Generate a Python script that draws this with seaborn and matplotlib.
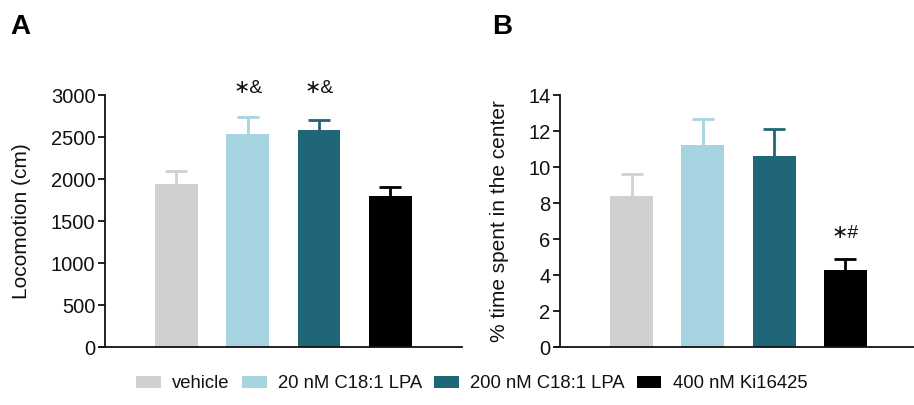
import matplotlib
matplotlib.use("Agg")
import matplotlib.pyplot as plt
from matplotlib.patches import Patch
import pandas as pd
import seaborn as sns

groups = ["vehicle", "20 nM C18:1 LPA", "200 nM C18:1 LPA", "400 nM Ki16425"]
colors = ["#d0d0d0", "#a6d4e0", "#1f6678", "#000000"]

loco_mean = [1945, 2540, 2580, 1805]
loco_sem = [155, 205, 120, 100]
loco_marks = ["", "\u2217&", "\u2217&", ""]

center_mean = [8.4, 11.25, 10.6, 4.3]
center_sem = [1.2, 1.4, 1.5, 0.6]
center_marks = ["", "", "", "\u2217#"]

sns.set_theme(style="ticks")
plt.rcParams["font.family"] = ["Liberation Sans", "DejaVu Sans"]
plt.rcParams["text.color"] = "#111111"
plt.rcParams["axes.labelcolor"] = "#111111"
plt.rcParams["ytick.color"] = "#111111"
plt.rcParams["axes.edgecolor"] = "#111111"

fig = plt.figure(figsize=(9.14, 4.05), dpi=100)
ax_a = fig.add_axes([0.115, 0.143, 0.39, 0.622])
ax_b = fig.add_axes([0.613, 0.143, 0.39, 0.622])


def draw_panel(ax, means, sems, marks, ylim, yticks, ylabel, mark_pad):
    df = pd.DataFrame({"group": groups, "value": means})
    sns.barplot(data=df, x="group", y="value", hue="group", palette=colors,
                order=groups, hue_order=groups, dodge=False, width=0.6,
                legend=False, ax=ax, saturation=1, linewidth=0)
    for bar in ax.patches:
        bar.set_zorder(2)
    for i, (m, s, c) in enumerate(zip(means, sems, colors)):
        eb = ax.errorbar(i, m, yerr=[[0], [s]], color=c, capsize=8,
                         elinewidth=2, capthick=2, zorder=1)
        # upper error only: hide the cap sitting on the bar top
        eb[1][0].set_visible(False)
    # significance marks sit at one height per panel
    tops = [m + s for m, s, k in zip(means, sems, marks) if k]
    for i, k in enumerate(marks):
        if k:
            ax.text(i, max(tops) + mark_pad, k, ha="center", va="center",
                    fontsize=14)
    ax.set_xlim(-1.0, 4.0)
    ax.set_ylim(*ylim)
    ax.set_yticks(yticks)
    ax.set_xticks([])
    ax.set_xlabel("")
    ax.set_ylabel(ylabel, fontsize=15, labelpad=14)
    ax.tick_params(axis="y", labelsize=14.5, length=5, width=1.3, pad=2)
    for side in ["top", "right"]:
        ax.spines[side].set_visible(False)
    ax.spines["left"].set_linewidth(1.3)
    ax.spines["bottom"].set_linewidth(1.3)
    ax.spines["bottom"].set_bounds(-1.07, 4.0)
    ax.spines["bottom"].set_clip_on(False)


draw_panel(ax_a, loco_mean, loco_sem, loco_marks, (0, 3000),
           range(0, 3001, 500), "Locomotion (cm)", 330)
draw_panel(ax_b, center_mean, center_sem, center_marks, (0, 14),
           range(0, 15, 2), "% time spent in the center", 1.43)

fig.text(0.011, 0.915, "A", fontsize=20, fontweight="bold", color="black")
fig.text(0.538, 0.915, "B", fontsize=20, fontweight="bold", color="black")

handles = [Patch(facecolor=c, edgecolor="none", label=g) for g, c in zip(groups, colors)]
fig.legend(handles=handles, loc="center", bbox_to_anchor=(0.516, 0.052), ncol=4,
           frameon=False, fontsize=13.3, handlelength=1.35, handleheight=0.6,
           handletextpad=0.6, columnspacing=0.65)

fig.savefig("out.png", dpi=100)
